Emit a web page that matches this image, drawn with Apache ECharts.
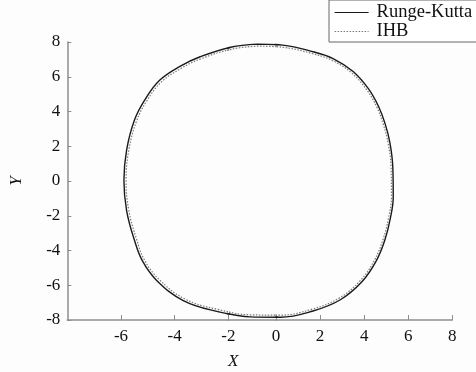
<!DOCTYPE html>
<html>
<head>
<meta charset="utf-8">
<script src="https://cdn.jsdelivr.net/npm/echarts@6/dist/echarts.min.js"></script>
<style>
  html, body { margin: 0; padding: 0; background: #fdfdfd; }
  #chart { width: 476px; height: 372px; }
</style>
</head>
<body>
<div id="chart"></div>
<script>
// Limit cycle in the phase plane, traced clockwise from the top
const rkX = [-0.8, 0.3, 1.68, 2.59, 3.5, 4.2, 4.65, 4.95, 5.17, 5.3, 5.32, 5.18, 4.94, 4.55, 3.9, 2.9, 1.68,
             0.2, -1.1, -2.43, -3.68, -4.67, -5.2, -5.5, -5.79, -5.89, -5.79, -5.5, -5.1, -4.55, -3.8, -3.05, -1.9];
const rkY = [7.88, 7.82, 7.44, 7.05, 6.3, 5.3, 4.3, 3.3, 2.2, 0.8, -0.9, -2.2, -3.4, -4.6, -5.8, -6.85, -7.48,
             -7.84, -7.82, -7.5, -6.88, -5.72, -4.6, -3.4, -1.7, 0.05, 1.78, 3.5, 4.7, 5.81, 6.6, 7.15, 7.7];
const ihbX = [-0.79, 0.29, 1.65, 2.55, 3.44, 4.13, 4.58, 4.87, 5.09, 5.22, 5.24, 5.10, 4.86, 4.48, 3.84, 2.85, 1.65,
              0.19, -1.09, -2.40, -3.63, -4.60, -5.13, -5.42, -5.71, -5.81, -5.71, -5.42, -5.03, -4.48, -3.74, -3.01, -1.88];
const ihbY = [7.76, 7.70, 7.33, 6.94, 6.21, 5.22, 4.24, 3.25, 2.17, 0.79, -0.89, -2.17, -3.35, -4.53, -5.71, -6.75, -7.37,
              -7.72, -7.70, -7.39, -6.78, -5.63, -4.53, -3.35, -1.67, 0.05, 1.75, 3.45, 4.63, 5.72, 6.50, 7.04, 7.58];
const seriesNames = ['Runge-Kutta', 'IHB'];

const FONT = 'Liberation Serif';
const AXIS_COLOR = '#8e8e8e';
const TEXT_COLOR = '#111';
const RK_COLOR = '#1a1a1a';
const IHB_COLOR = '#7a7a7a';

// The horizontal axis is laid out as three joined panels, each with its own span
const panels = [
  { min: -8, max: -2, left: 67.3,  right: 228.3 },
  { min: -2, max: 0,  left: 228.3, right: 276 },
  { min: 0,  max: 8,  left: 276,   right: 452.3 }
];
const PLOT_TOP = 42, PLOT_BOTTOM = 320, W = 476, H = 372;

function closedLoop(xs, ys) {
  const pts = xs.map((x, i) => [x, ys[i]]);
  pts.push(pts[0]);
  return pts;
}
const rkData = closedLoop(rkX, rkY);
const ihbData = closedLoop(ihbX, ihbY);

const grids = [], xAxes = [], yAxes = [], series = [];
panels.forEach((p, i) => {
  grids.push({
    left: p.left, width: p.right - p.left, top: PLOT_TOP, height: PLOT_BOTTOM - PLOT_TOP,
    containLabel: false, outerBoundsMode: 'none'
  });
  xAxes.push({
    type: 'value', gridIndex: i, min: p.min, max: p.max, interval: 2, position: 'bottom',
    axisLine: { show: true, onZero: false, lineStyle: { color: AXIS_COLOR, width: 1.5 } },
    axisTick: { show: true, inside: true, length: 5, lineStyle: { color: AXIS_COLOR, width: 1 } },
    axisLabel: {
      show: i !== 1, showMinLabel: i !== 0, margin: 8,
      color: TEXT_COLOR, fontFamily: FONT, fontSize: 17
    },
    splitLine: { show: false },
    name: i === 1 ? 'X' : '',
    nameLocation: 'middle', nameGap: 33,
    nameTextStyle: { fontFamily: FONT, fontStyle: 'italic', fontSize: 17, color: TEXT_COLOR, padding: [0, 38, 0, 0] }
  });
  yAxes.push({
    type: 'value', gridIndex: i, min: -8, max: 8, interval: 2, show: i === 0, position: 'left',
    axisLine: { show: true, onZero: false, lineStyle: { color: AXIS_COLOR, width: 1.5 } },
    axisTick: { show: true, inside: true, length: 4, lineStyle: { color: AXIS_COLOR, width: 1 } },
    axisLabel: { margin: 7, color: TEXT_COLOR, fontFamily: FONT, fontSize: 17 },
    splitLine: { show: false },
    name: 'Y', nameLocation: 'middle', nameGap: 42,
    nameTextStyle: { fontFamily: FONT, fontStyle: 'italic', fontSize: 17, color: TEXT_COLOR }
  });
  series.push({
    name: seriesNames[1], type: 'line', xAxisIndex: i, yAxisIndex: i, data: ihbData,
    symbol: 'none', showSymbol: false, smooth: 0.4, clip: true, z: 2,
    itemStyle: { color: IHB_COLOR },
    lineStyle: { color: IHB_COLOR, width: 1.2, type: [1.5, 1.5] }
  });
  series.push({
    name: seriesNames[0], type: 'line', xAxisIndex: i, yAxisIndex: i, data: rkData,
    symbol: 'none', showSymbol: false, smooth: 0.4, clip: true, z: 3,
    itemStyle: { color: RK_COLOR },
    lineStyle: { color: RK_COLOR, width: 1.4, type: 'solid' }
  });
});

const chart = echarts.init(document.getElementById('chart'), null, { renderer: 'canvas', width: W, height: H });
chart.setOption({
  animation: false,
  backgroundColor: '#fdfdfd',
  grid: grids,
  xAxis: xAxes,
  yAxis: yAxes,
  legend: {
    show: true,
    data: seriesNames,
    orient: 'vertical', left: 329, top: 0,
    backgroundColor: '#ffffff', borderColor: '#666', borderWidth: 1, borderRadius: 0,
    padding: [3, 30, 1, 5], itemGap: 0, itemWidth: 34, itemHeight: 12,
    itemStyle: { opacity: 0, borderWidth: 0 },
    lineStyle: { width: 1.2 },
    textStyle: { fontFamily: FONT, fontSize: 18.5, color: TEXT_COLOR, padding: [0, 0, 0, 3] }
  },
  series: series
});
</script>
</body>
</html>
